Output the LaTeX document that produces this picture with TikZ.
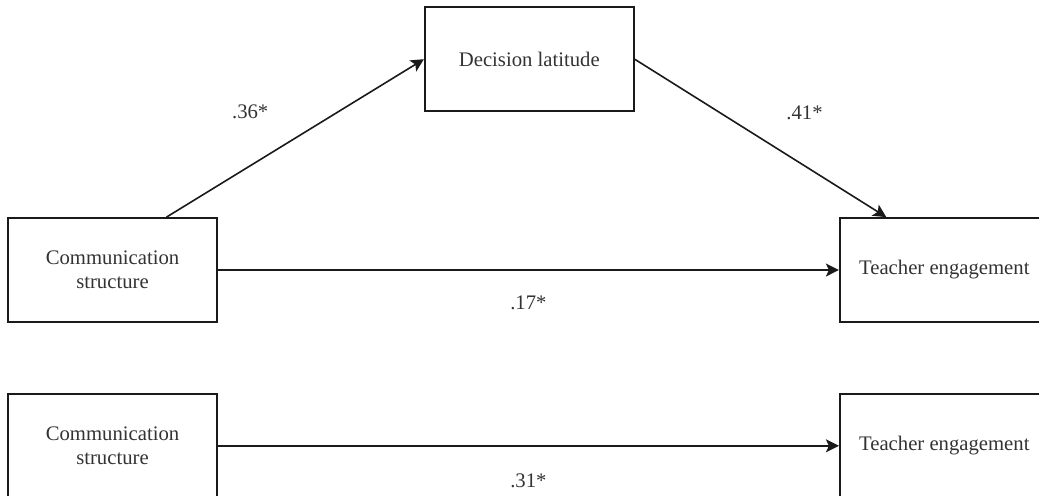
\documentclass[tikz,border=0pt]{standalone}
\usepackage{fontspec}
\setmainfont{Liberation Serif}
\usetikzlibrary{positioning, arrows.meta}
\definecolor{cLine}{HTML}{1A1A1A}
\definecolor{cText}{HTML}{333333}
\tikzset{
  var/.style={
    rectangle, draw=cLine, line width=0.9pt,
    minimum width=104.5pt, minimum height=52pt,
    align=center, font=\fontsize{10.35}{12}\selectfont,
    text=cText, inner sep=0pt
  },
  arr/.style={
    -{Stealth[length=6.5pt,width=6.5pt,inset=1.5pt]}, line width=0.8pt, draw=cLine
  },
  lbl/.style={
    font=\fontsize{10.35}{12}\selectfont,
    text=cText, inner sep=0pt
  }
}

\begin{document}
\begin{tikzpicture}

\useasboundingbox (0,0) rectangle (519.5pt,-247.5pt);

%% ── Nodes ────────────────────────────────────────────────────────

% full model
\node[var] (comm) at (56.25pt,-135pt) {Communication\\structure};
\node[var, right=310.5pt of comm] (teach) {Teacher engagement};
\node[var, above right=52.5pt and 103pt of comm] (dec) {Decision latitude};

% total effect
\node[var, below=35pt of comm] (comm2) {Communication\\structure};
\node[var, right=310.5pt of comm2] (teach2) {Teacher engagement};

%% ── Arrows ───────────────────────────────────────────────────────

% a path
\draw[arr] ([xshift=27pt]comm.north) -- (dec.west)
  node[lbl, midway, xshift=-22.5pt, yshift=13pt] {.36*};

% b path
\draw[arr] (dec.east) -- ([xshift=-29pt]teach.north)
  node[lbl, midway, xshift=22pt, yshift=12.75pt] {.41*};

% direct effect
\draw[arr] (comm) -- (teach)
  node[lbl, midway, yshift=-16.5pt] {.17*};

% total effect
\draw[arr] (comm2) -- (teach2)
  node[lbl, midway, yshift=-17.5pt] {.31*};

\end{tikzpicture}
\end{document}
